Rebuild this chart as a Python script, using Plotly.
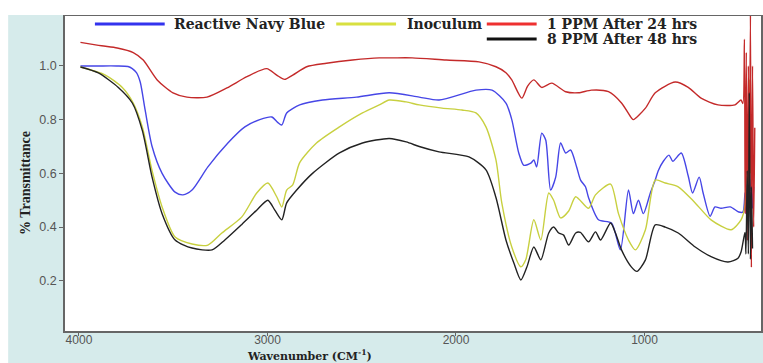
import plotly.graph_objects as go

# ---- data ----
red_wn = [3992, 3880, 3797, 3712, 3659, 3585, 3501, 3427, 3321, 3215, 3109, 3004, 2951, 2909, 2866, 2792, 2687,
          2549, 2407, 2338, 2232, 2052, 1878, 1788, 1735, 1704, 1651, 1620, 1587, 1545, 1492, 1418, 1350, 1281, 1191,
          1122, 1069, 1059, 995, 943, 837, 768, 700, 610, 520, 488,
          478, 470, 466, 460, 455, 449, 444, 438, 433, 427, 421, 415]
red_t = [1.088, 1.075, 1.067, 1.05, 1.022, 0.948, 0.900, 0.884, 0.884, 0.918, 0.960, 0.990, 0.966, 0.950, 0.966, 0.997, 1.010,
         1.022, 1.030, 1.030, 1.030, 1.022, 1.015, 0.997, 0.975, 0.948, 0.880, 0.925, 0.948, 0.920, 0.936, 0.904, 0.900, 0.910, 0.904,
         0.862, 0.806, 0.800, 0.843, 0.900, 0.940, 0.920, 0.880, 0.855, 0.855, 0.873,
         0.86, 1.10, 0.45, 1.05, 0.35, 1.00, 0.50, 1.19, 0.25, 1.00, 0.40, 0.77]

blue_wn = [3992, 3900, 3800, 3740, 3717, 3695, 3675, 3649, 3612, 3559, 3490, 3448, 3400, 3316, 3210, 3120, 3041, 2977, 2946, 2924, 2898, 2829,
           2708, 2528, 2354, 2195, 2090, 1894, 1809, 1735, 1704, 1667, 1640, 1603, 1587, 1572, 1545, 1524, 1498, 1471,
           1445, 1418, 1392, 1360, 1339, 1313, 1297, 1244, 1175, 1128, 1085, 1059, 1032, 1006, 969, 943, 927, 900,
           870, 850, 805, 768, 745, 710, 689, 652, 626, 594, 545, 500, 478, 467,
           462, 455, 449, 444, 438, 433, 427, 421]
blue_t = [1.000, 1.000, 1.000, 0.998, 0.990, 0.975, 0.940, 0.836, 0.700, 0.600, 0.530, 0.520, 0.538, 0.624, 0.713, 0.773, 0.800, 0.810, 0.790, 0.780, 0.825, 0.855,
          0.873, 0.884, 0.900, 0.884, 0.873, 0.910, 0.910, 0.862, 0.800, 0.676, 0.630, 0.638, 0.650, 0.624, 0.750, 0.724, 0.538, 0.586,
          0.713, 0.676, 0.687, 0.624, 0.575, 0.550, 0.510, 0.427, 0.415, 0.315, 0.538, 0.450, 0.500, 0.450, 0.527, 0.575, 0.610, 0.645,
          0.668, 0.645, 0.676, 0.590, 0.527, 0.586, 0.527, 0.440, 0.475, 0.470, 0.475, 0.456, 0.456, 0.527,
          0.45, 0.56, 0.48, 0.62, 0.42, 0.58, 0.47, 0.55]

yellow_wn = [3992, 3860, 3770, 3712, 3664, 3612, 3559, 3490, 3400, 3316, 3242, 3136, 3057, 2998, 2951, 2924, 2898, 2866,
             2829, 2740, 2618, 2496, 2407, 2354, 2264, 2195, 2074, 1968, 1894, 1841, 1788, 1757, 1704, 1656, 1630, 1587,
             1550, 1508, 1482, 1445, 1402, 1365, 1297, 1260, 1180, 1138, 1085, 1048, 995, 943, 890, 821, 731, 647, 541,
             488, 467, 462, 455, 449, 444, 438, 433, 427]
yellow_t = [0.996, 0.966, 0.920, 0.862, 0.773, 0.610, 0.475, 0.363, 0.337, 0.333, 0.378, 0.438, 0.527, 0.564, 0.513, 0.475, 0.538, 0.557,
            0.640, 0.713, 0.773, 0.825, 0.855, 0.873, 0.866, 0.855, 0.843, 0.836, 0.825, 0.773, 0.650, 0.490, 0.326, 0.252, 0.278, 0.427,
            0.352, 0.527, 0.500, 0.434, 0.460, 0.513, 0.470, 0.520, 0.560, 0.450, 0.352, 0.315, 0.390, 0.575, 0.564, 0.550, 0.490, 0.427, 0.390,
            0.427, 0.480, 0.62, 0.74, 0.55, 0.95, 0.60, 0.70, 0.62]

black_wn = [3992, 3897, 3791, 3717, 3664, 3612, 3559, 3490, 3400, 3294, 3226, 3136, 3057, 2998, 2961, 2924, 2898, 2845,
            2761, 2618, 2496, 2354, 2264, 2195, 2090, 1931, 1841, 1788, 1735, 1693, 1656, 1624, 1587, 1550, 1508, 1482,
            1455, 1429, 1402, 1365, 1340, 1297, 1260, 1233, 1180, 1154, 1122, 1069, 1040, 995, 943, 890, 821, 731, 647,
            557, 504, 488, 467, 462, 455, 449, 444, 438, 433, 427]
black_t = [0.996, 0.974, 0.920, 0.862, 0.760, 0.586, 0.450, 0.352, 0.322, 0.315, 0.352, 0.410, 0.463, 0.500, 0.463, 0.427, 0.490, 0.538,
           0.600, 0.676, 0.713, 0.730, 0.717, 0.700, 0.680, 0.661, 0.613, 0.510, 0.352, 0.266, 0.203, 0.251, 0.326, 0.278, 0.378, 0.400,
           0.378, 0.370, 0.333, 0.378, 0.380, 0.345, 0.382, 0.352, 0.415, 0.378, 0.315, 0.251, 0.235, 0.278, 0.408, 0.400, 0.378, 0.326, 0.290,
           0.270, 0.284, 0.307, 0.380, 0.30, 0.61, 0.30, 0.90, 0.28, 0.55, 0.32]

series = [
    ("Reactive Navy Blue", blue_wn, blue_t, "#4646e6", "#3333ee"),
    ("Inoculum", yellow_wn, yellow_t, "#c8d040", "#d8e040"),
    ("1 PPM After 24 hrs", red_wn, red_t, "#c42a2a", "#ee3030"),
    ("8 PPM After 48 hrs", black_wn, black_t, "#222222", "#111111"),
]

x_ticks = [4000, 3000, 2000, 1000]
y_ticks = [0.2, 0.4, 0.6, 0.8, 1.0]

fig = go.Figure()
for name, xs, ys, col, _ in series:
    fig.add_trace(go.Scatter(x=xs, y=ys, mode="lines", name=name,
                             line=dict(color=col, width=1.4, shape="spline", smoothing=0.7),
                             showlegend=False))

W, H = 763, 363
L, R, T, B = 65, 0, 16, 32
pw, ph = W - L - R, H - T - B


def px(xp):
    return (xp - L) / pw


def py(yp):
    return (H - B - yp) / ph


shapes = [
    # white strips outside the cyan frame
    dict(type="rect", xref="paper", yref="paper", x0=px(-5), x1=px(770), y0=py(15), y1=py(-5),
         fillcolor="white", line=dict(width=0), layer="above"),
    dict(type="rect", xref="paper", yref="paper", x0=px(-5), x1=px(8), y0=py(370), y1=py(-5),
         fillcolor="white", line=dict(width=0), layer="above"),
]
annotations = []

# custom legend layout (as in the reference)
legend_pos = [
    (95, 165, 172, 24),
    (337, 397, 406, 24),
    (488, 538, 546, 24),
    (488, 538, 546, 39),
]
for (name, _, _, _, lcol), (lx0, lx1, tx, ly) in zip(series, legend_pos):
    shapes.append(dict(type="line", xref="paper", yref="paper", x0=px(lx0), x1=px(lx1), y0=py(ly), y1=py(ly),
                       line=dict(color=lcol, width=3)))
    annotations.append(dict(text=name, xref="paper", yref="paper", x=px(tx), y=py(ly), xanchor="left",
                            yanchor="middle", showarrow=False,
                            font=dict(family="DejaVu Serif", size=14, color="#222", weight="bold")))

annotations.append(dict(text="% Transmittance", xref="paper", yref="paper", x=px(25), y=py(183),
                        textangle=-90, showarrow=False, xanchor="center", yanchor="middle",
                        font=dict(family="Liberation Serif", size=14, color="#222", weight="bold")))
annotations.append(dict(text="Wavenumber (CM<sup>-1</sup>)", xref="paper", yref="paper", x=px(310), y=py(355),
                        showarrow=False, xanchor="center", yanchor="middle",
                        font=dict(family="DejaVu Serif", size=11, color="#222", weight="bold")))

fig.update_layout(
    width=W, height=H,
    margin=dict(l=L, r=R, t=T, b=B, pad=0),
    paper_bgcolor="#d6ebeb",
    plot_bgcolor="white",
    shapes=shapes,
    annotations=annotations,
    showlegend=False,
    xaxis=dict(range=[4074, 382], tickvals=x_ticks, ticktext=[str(v) for v in x_ticks],
               showgrid=False, zeroline=False, showline=True, linecolor="#666", linewidth=1.5, mirror=True,
               ticks="outside", ticklen=3, tickcolor="#666", ticklabelstandoff=-6,
               tickfont=dict(family="Liberation Sans", size=12, color="#555")),
    yaxis=dict(range=[0.013, 1.186], tickvals=y_ticks, ticktext=[f"{v:.1f}" for v in y_ticks],
               showgrid=False, zeroline=False, showline=True, linecolor="#666", linewidth=1.5, mirror=True,
               ticks="outside", ticklen=4, tickcolor="#666",
               tickfont=dict(family="Liberation Sans", size=12.5, color="#555")),
)

fig.write_html("out.html")
